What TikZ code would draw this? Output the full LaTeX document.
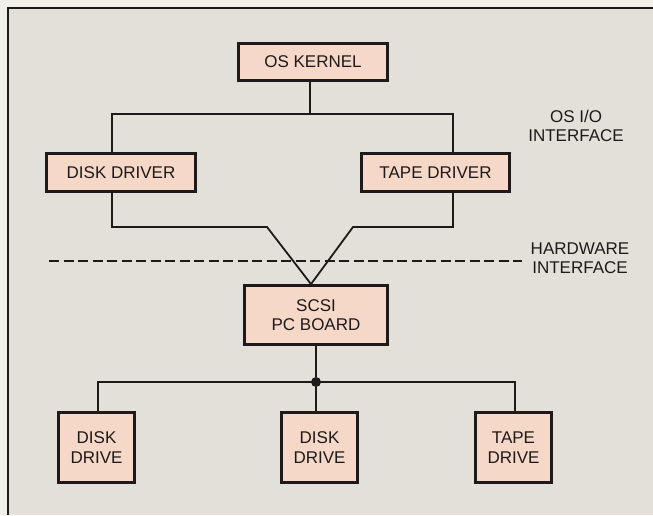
\documentclass[tikz,border=0pt]{standalone}
\usepackage{fontspec}
\setmainfont{Liberation Sans}
\usetikzlibrary{calc}
\definecolor{paperBg}{RGB}{241,239,233}
\definecolor{panelBg}{RGB}{226,224,217}
\definecolor{boxFill}{RGB}{245,216,200}
\definecolor{lineColor}{RGB}{30,26,26}

\begin{document}
\begin{tikzpicture}[
  x=1pt, y=-1pt,
  font=\fontsize{17}{19.5}\selectfont,
  unit/.style={draw=lineColor, fill=boxFill, line width=2.8pt, align=center, inner sep=0pt, text=lineColor},
  wire/.style={draw=lineColor, line width=1.8pt},
  hwline/.style={draw=lineColor, line width=2.1pt, dash pattern=on 10pt off 4.5pt},
  sidenote/.style={align=center, text=lineColor},
  tapdot/.style={circle, fill=lineColor, inner sep=0pt, minimum size=10pt}
]

% ------------------------------------------------------------------
% Page and panel frame
% ------------------------------------------------------------------
\useasboundingbox (0,0) rectangle (653,515);
\fill[paperBg] (0,0) rectangle (653,515);
\fill[panelBg] (8,8) rectangle (653,515);
\draw[lineColor, line width=1.2pt] (8,515) -- (8,8) -- (653,8);

% ------------------------------------------------------------------
% Software side
% ------------------------------------------------------------------
\node[unit, minimum width=149pt, minimum height=37pt] (kernel) at (313,62) {OS KERNEL};
\node[unit, minimum width=149pt, minimum height=38pt] (diskdrv) at (121,172.5) {DISK DRIVER};
\node[unit, minimum width=148pt, minimum height=38pt] (tapedrv) at (435.5,172.5) {TAPE DRIVER};

\coordinate (osbus) at (310,114);
\coordinate (ddrop) at (112,114);
\coordinate (tdrop) at (453,114);
\draw[wire] (kernel.south -| osbus) -- (osbus);
\draw[wire] (diskdrv.north -| ddrop) -- (ddrop) -- (tdrop) -- (tapedrv.north -| tdrop);

\node[sidenote] (osio) at (576,126) {OS I/O\\INTERFACE};

% ------------------------------------------------------------------
% Hardware boundary
% ------------------------------------------------------------------
\node[unit, minimum width=143pt, minimum height=59pt] (scsi) at (316,315) {SCSI\\PC BOARD};

\coordinate (dbend) at (112,227);
\coordinate (dknee) at (267,227);
\coordinate (tbend) at (453,227);
\coordinate (tknee) at (353,227);
\draw[wire] (diskdrv.south -| dbend) -- (dbend) -- (dknee) -- ([xshift=-5pt]scsi.north);
\draw[wire] (tapedrv.south -| tbend) -- (tbend) -- (tknee) -- ([xshift=-5pt]scsi.north);

\coordinate (hwleft) at (49,261);
\coordinate (hwright) at (522,261);
\draw[hwline] (hwleft) -- (hwright);
\node[sidenote] (hwif) at (580,258) {HARDWARE\\INTERFACE};

% ------------------------------------------------------------------
% Drives on the SCSI bus
% ------------------------------------------------------------------
\node[unit, minimum width=76pt, minimum height=70pt] (drive1) at (96.5,447.5) {DISK\\DRIVE};
\node[unit, minimum width=76pt, minimum height=70pt] (drive2) at (319.5,447.5) {DISK\\DRIVE};
\node[unit, minimum width=76pt, minimum height=70pt] (drive3) at (513.5,447.5) {TAPE\\DRIVE};

\node[tapdot] (tap) at (316,382) {};
\coordinate (lbus) at (98,382);
\coordinate (rbus) at (515,382);
\draw[wire] (scsi.south -| tap) -- (tap) -- (tap |- drive2.north);
\draw[wire] (drive1.north -| lbus) -- (lbus) -- (rbus) -- (drive3.north -| rbus);

\end{tikzpicture}
\end{document}
